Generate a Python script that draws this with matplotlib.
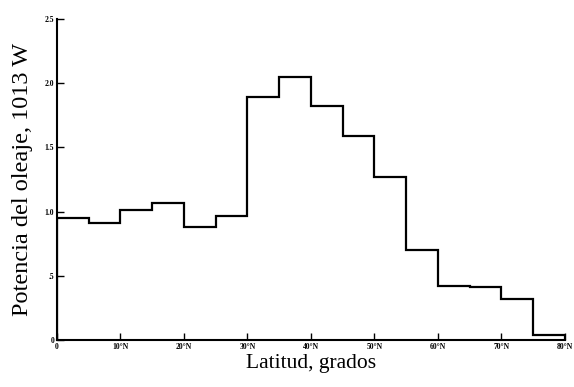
import numpy as np
import matplotlib
matplotlib.use('Agg')
import matplotlib.pyplot as plt

# latitude bins (5 degree steps) and wave power per bin
edges = [0, 5, 10, 15, 20, 25, 30, 35, 40, 45, 50, 55, 60, 65, 70, 75, 80]
power = [0.95, 0.91, 1.01, 1.07, 0.88, 0.97, 1.89, 2.05, 1.82, 1.59,
         1.27, 0.70, 0.42, 0.41, 0.32, 0.04]

xticks = [0, 10, 20, 30, 40, 50, 60, 70, 80]
xlabels = ['0', '10°N', '20°N', '30°N', '40°N', '50°N', '60°N', '70°N', '80°N']
yticks = [0, 0.5, 1.0, 1.5, 2.0, 2.5]
ylabels = ['0', '.5', '1.0', '1.5', '2.0', '2.5']

fig = plt.figure(figsize=(5.74, 3.87), dpi=100)
ax = fig.add_axes([0.099, 0.121, 0.885, 0.830])

ax.stairs(power, edges, color='black', linewidth=1.6, baseline=0)

ax.set_xlim(0, 80)
ax.set_ylim(0, 2.5)
ax.spines['top'].set_visible(False)
ax.spines['right'].set_visible(False)
ax.spines['left'].set_linewidth(1.5)
ax.spines['bottom'].set_linewidth(1.5)

ax.set_xticks(xticks)
ax.set_xticklabels(xlabels, fontsize=5.5, fontweight='bold', family='Liberation Serif')
ax.set_yticks(yticks)
ax.set_yticklabels(ylabels, fontsize=5.5, fontweight='bold', family='Liberation Serif')
ax.tick_params(direction='in', length=5, width=1, pad=2)

ax.set_xlabel('Latitud, grados', fontsize=15.5, family='Liberation Serif', labelpad=2)
ax.set_ylabel('Potencia del oleaje, 1013 W', fontsize=17.5, family='Liberation Serif', labelpad=8)

fig.savefig('out.png', dpi=100)
